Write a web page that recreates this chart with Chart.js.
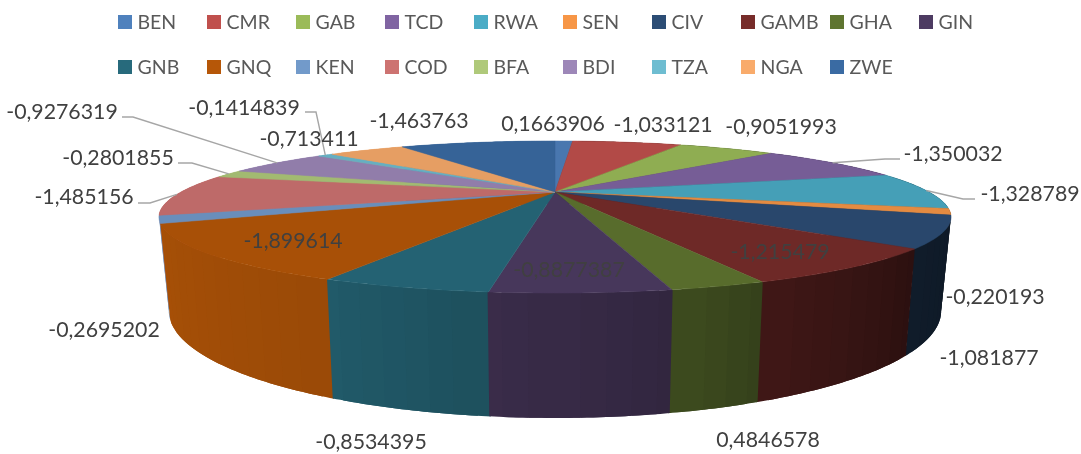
<!DOCTYPE html>
<html>
<head>
<meta charset="utf-8">
<style>html,body{margin:0;padding:0;background:#fff}canvas{display:block}</style>
<script src="https://cdn.jsdelivr.net/npm/chart.js@4/dist/chart.umd.min.js"></script>
</head>
<body>
<canvas id="c" width="1081" height="454"></canvas>
<script>
const categories = ["BEN","CMR","GAB","TCD","RWA","SEN","CIV","GAMB","GHA","GIN","GNB","GNQ","KEN","COD","BFA","BDI","TZA","NGA","ZWE"];
const values = [0.1663906,-1.033121,-0.9051993,-1.350032,-1.328789,-0.220193,-1.081877,-1.215479,0.4846578,-0.8877387,-0.8534395,-1.899614,-0.2695202,-1.485156,-0.2801855,-0.9276319,-0.1414839,-0.713411,-1.463763];
const colors = ["#4F81BD","#C0504D","#9BBB59","#8064A2","#4BACC6","#F79646","#2C4D75","#772C2A","#5F7530","#4D3B62","#276A7C","#B65708","#729ACA","#CD7371","#AFC97A","#9D87B8","#6EBDD1","#F9AB6B","#3A6BA3"];

// Label centres, kept apart from the data
const labelX = [553,663,781,953,1030,995,989,780,768,569,371,293,104,84,118,62,244,309,419];
const labelY = [124,125,127,154,194,297,358,252,440,270,442,241,330,197,158,112,108,139,121];
// Leader lines: category -> [start x, start y, elbow x, elbow y]
const leaders = {TCD:[900,159,885,159],RWA:[975,199,963,199],COD:[138,203,150,203],BFA:[178,163,192,163],BDI:[122,117,133,117],TZA:[305,112,316,112]};

// Projection of the disc
const CX=555, CY=192, RX=374, RY=67.8, K=0.329, DEPTH=83.8, BOTTOM_SCALE=0.975;
const proj=(a,bottom)=>{
  const u=Math.cos(a), v=Math.sin(a), w=1-K*v;
  const s=bottom?BOTTOM_SCALE:1;
  return [CX+s*RX*u/w, CY+(RY*v+(bottom?DEPTH:0))/w];
};
const shade=(hex,f)=>{
  const n=parseInt(hex.slice(1),16);
  return `rgb(${Math.round((n>>16&255)*f)},${Math.round((n>>8&255)*f)},${Math.round((n&255)*f)})`;
};
// Side light by angle clockwise from the top of the disc (degrees)
const sideLight=(deg)=>{
  const pts=[[0,.3],[90,.3],[131,.36],[155,.52],[165,.62],[184,.74],[205,.85],[246,.92],[270,.95],[360,.95]];
  for(let i=1;i<pts.length;i++){
    if(deg<=pts[i][0]){
      const t=(deg-pts[i-1][0])/(pts[i][0]-pts[i-1][0]);
      return pts[i-1][1]+t*(pts[i][1]-pts[i-1][1]);
    }
  }
  return .95;
};

const pie3d={
  id:'pie3d',
  afterLayout(chart){
    // Same legend items, laid out in Excel's fixed grid
    const lg=chart.legend;
    lg.draw=function(){
      const ctx=chart.ctx;
      ctx.save();
      ctx.font='19.5px Lato';
      ctx.textBaseline='middle';
      ctx.textAlign='left';
      lg.legendItems.forEach((it,i)=>{
        const col=i%10,row=Math.floor(i/10);
        const x=118+89*col,y=15+45*row;
        ctx.fillStyle=it.fillStyle;
        ctx.fillRect(x,y,14,14);
        ctx.fillStyle='#595959';
        ctx.fillText(it.text,x+19.5,y+8);
      });
      ctx.restore();
    };
  },
  beforeDatasetDraw(chart){
    const ctx=chart.ctx, arcs=chart.getDatasetMeta(0).data;
    ctx.save();
    // sides, back to front; each strip overlaps its neighbour inside a slice
    const strips=[];
    arcs.forEach((arc,i)=>{
      const span=arc.endAngle-arc.startAngle;
      const n=Math.max(1,Math.ceil(span/(Math.PI/60)));
      for(let j=0;j<n;j++){
        const a0=arc.startAngle+span*j/n;
        const a1=arc.startAngle+span*(j+1)/n;
        strips.push({i,a0:j?a0-span/n*.5:a0-.0015,a1:j<n-1?a1+span/n*.5:a1+.0015,m:(a0+a1)/2});
      }
    });
    strips.sort((p,q)=>Math.sin(p.m)-Math.sin(q.m));
    strips.forEach(s=>{
      const deg=((s.m+Math.PI/2)*180/Math.PI+360)%360;
      const col=shade(colors[s.i],sideLight(deg));
      const k=8, top=[], bot=[];
      for(let j=0;j<=k;j++){
        const a=s.a0+(s.a1-s.a0)*j/k;
        top.push(proj(a,false));bot.unshift(proj(a,true));
      }
      ctx.beginPath();
      top.concat(bot).forEach((q,m)=>m?ctx.lineTo(q[0],q[1]):ctx.moveTo(q[0],q[1]));
      ctx.closePath();
      ctx.fillStyle=col;
      ctx.fill();
    });
    // top
    arcs.forEach((arc,i)=>{
      const col=shade(colors[i],.925);
      ctx.beginPath();
      ctx.moveTo(CX,CY);
      const n=Math.max(2,Math.ceil((arc.endAngle-arc.startAngle)/(Math.PI/180)));
      for(let j=0;j<=n;j++){
        const q=proj(arc.startAngle+(arc.endAngle-arc.startAngle)*j/n,false);
        ctx.lineTo(q[0],q[1]);
      }
      ctx.closePath();
      ctx.fillStyle=col;ctx.strokeStyle=col;ctx.lineWidth=.5;
      ctx.fill();ctx.stroke();
    });
    // leader lines
    ctx.strokeStyle='#a6a6a6';ctx.lineWidth=1.4;
    arcs.forEach((arc,i)=>{
      const L=leaders[categories[i]];
      if(!L)return;
      const e=proj((arc.startAngle+arc.endAngle)/2,false);
      ctx.beginPath();ctx.moveTo(L[0],L[1]);ctx.lineTo(L[2],L[3]);ctx.lineTo(e[0],e[1]);ctx.stroke();
    });
    // data labels
    ctx.font='21.3px Lato';ctx.fillStyle='#404040';ctx.textAlign='center';ctx.textBaseline='middle';
    values.forEach((v,i)=>ctx.fillText(String(v).replace('.',','),labelX[i],labelY[i]));
    ctx.restore();
    return false;
  }
};

new Chart(document.getElementById('c'),{
  type:'pie',
  data:{labels:categories,datasets:[{data:values,backgroundColor:colors,borderWidth:0}]},
  options:{
    responsive:false,animation:false,
    plugins:{
      legend:{display:true,position:'top',labels:{font:{family:'Lato',size:18},color:'#595959',boxWidth:14,boxHeight:14}},
      tooltip:{enabled:false}
    }
  },
  plugins:[pie3d]
});
</script>
</body>
</html>
